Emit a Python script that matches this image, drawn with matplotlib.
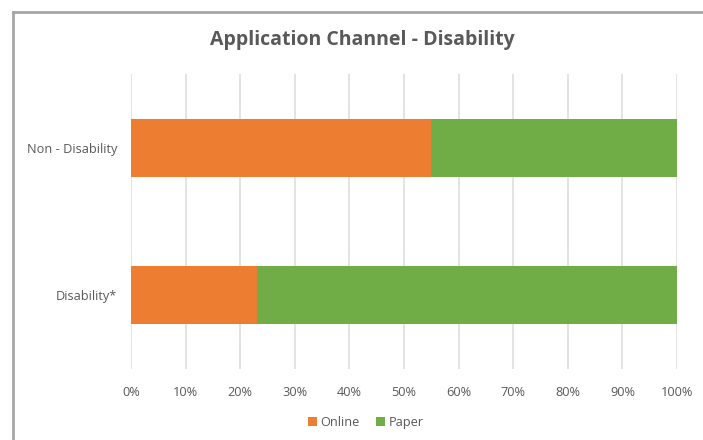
import matplotlib.pyplot as plt
from matplotlib.lines import Line2D
from matplotlib.ticker import PercentFormatter

groups = ['Disability*', 'Non - Disability']
online = [23, 55]
paper = [77, 45]

orange = '#ED7D31'
green = '#70AD47'
txt = '#595959'

plt.rcParams['font.family'] = ['Open Sans', 'DejaVu Sans']

fig = plt.figure(figsize=(7.03, 4.40), dpi=100)
ax = fig.add_axes([131 / 703, 1 - 369 / 440, 546 / 703, 295 / 440])

ax.barh(groups, online, height=0.39, color=orange, label='Online', zorder=3)
ax.barh(groups, paper, left=online, height=0.39, color=green, label='Paper', zorder=3)

ax.set_xlim(0, 100)
ax.set_ylim(-0.5, 1.5)
ax.set_xticks(range(0, 101, 10))
ax.xaxis.set_major_formatter(PercentFormatter(decimals=0))
ax.grid(axis='x', color='#dedede', linewidth=1.2, zorder=0)
ax.tick_params(length=0, labelsize=9.2, labelcolor=txt)
ax.tick_params(axis='x', pad=12)
ax.tick_params(axis='y', pad=10)
for s in ax.spines.values():
    s.set_visible(False)

fig.text(362 / 703, 1 - 40 / 440, 'Application Channel - Disability', ha='center', va='center',
         fontsize=14, fontweight='bold', color=txt)

fig.legend(loc='center', bbox_to_anchor=(366 / 703, 1 - 422 / 440), ncol=2, frameon=False,
           handlelength=0.7, handleheight=0.7, handletextpad=0.3, columnspacing=1.3,
           fontsize=9.2, labelcolor=txt)

# outer chart frame (left and top edges visible)
fig.add_artist(Line2D([13 / 703, 13 / 703], [0, 1 - 12 / 440], color='#a6a6a6', linewidth=2,
                      transform=fig.transFigure))
fig.add_artist(Line2D([13 / 703, 1], [1 - 12 / 440, 1 - 12 / 440], color='#a6a6a6', linewidth=2,
                      transform=fig.transFigure))

fig.savefig('out.png', dpi=100)
